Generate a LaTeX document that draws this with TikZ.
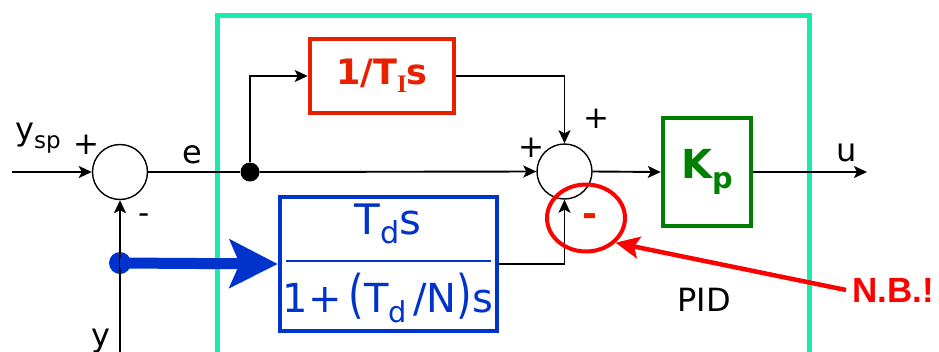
\documentclass[tikz,border=0pt]{standalone}
\usepackage{fontspec}
\setmainfont{DejaVu Sans}
\newfontfamily\nbfont{Liberation Sans}
\newfontfamily\serfont{Liberation Serif}
\usetikzlibrary{arrows.meta,shapes.geometric}
\definecolor{mint}{RGB}{25,235,175}
\definecolor{blkblue}{RGB}{0,51,204}
\definecolor{blkred}{RGB}{232,32,0}
\definecolor{blkgreen}{RGB}{0,128,0}
\definecolor{nbred}{RGB}{255,0,0}
\newcommand{\lowsub}[1]{{\fontsize{0.72em}{0.72em}\selectfont\raisebox{-0.32em}{#1}}}
\begin{document}
\begin{tikzpicture}[x=1pt,y=-1pt,
  wire/.style={line width=1.9pt},
  sig/.style={line width=1.9pt,-{Stealth[length=13pt,width=12pt,inset=3pt]}},
  sumc/.style={circle,draw,line width=1.4pt,minimum size=55pt,inner sep=0pt},
  blk/.style={draw,line width=4.5pt,inner sep=0pt},
  lbl/.style={inner sep=0pt,font=\fontsize{32}{36}\selectfont},
  pm/.style={inner sep=0pt,font=\fontsize{31}{34}\selectfont}]
\useasboundingbox (0,0) rectangle (939,351);
% frame
\draw[mint,line width=4.5pt] (217.5,355) -- (217.5,15.5) -- (809.5,15.5) -- (809.5,355);
% sums
\node[sumc] (s1) at (120,172) {};
\node[sumc] (s2) at (564.5,171.5) {};
% blocks
\node[blk,draw=blkred,minimum width=144pt,minimum height=74pt,text=blkred,font=\fontsize{35}{38}\selectfont\bfseries] (integ) at (382,76) {1/T{\serfont\lowsub{I}}s};
\node[blk,draw=blkgreen,minimum width=88pt,minimum height=108pt,text=blkgreen,font=\fontsize{40}{44}\selectfont\bfseries] (kp) at (707,172) {K\lowsub{p}};
\node[blk,draw=blkblue,minimum width=217pt,minimum height=134pt] (deriv) at (388.5,264) {};
\node[inner sep=0pt,text=blkblue,font=\fontsize{42}{46}\selectfont] (num) at (388,224) {T\lowsub{d}s};
\node[inner sep=0pt,text=blkblue,font=\fontsize{40}{46}\selectfont] (den) at (388,298) {1+\,\scalebox{1}[1.3]{(}T\lowsub{d}\,/N\scalebox{1}[1.3]{)}s};
\coordinate (fl) at (286,261);
\coordinate (fr) at (491,261);
\draw[blkblue,line width=1.2pt] (fl) -- (fr);
% junction and coords
\node[circle,fill,inner sep=0pt,minimum size=19pt] (j) at (250,172) {};
\coordinate (in) at (12,172);
\coordinate (out) at (867,172);
\coordinate (ybot) at (120,355);
\node[circle,fill=blkblue,inner sep=0pt,minimum size=22pt] (bd) at (120,263) {};
% connectors
\draw[sig] (in) -- (s1.west);
\draw[sig] (ybot) -- (s1.south);
\draw[wire] (s1.east) -- (j);
\draw[sig] (j) -- (s2.west);
\draw[sig] (j) |- (integ.west);
\draw[sig] (integ.east) -| (s2.north);
\draw[sig] (deriv.east) -| (s2.south);
\draw[sig] (s2.east) -- (kp.west);
\draw[sig] (kp.east) -- (out);
\draw[blkblue,line width=11pt,-{Stealth[length=48pt,width=48pt,inset=10pt]}] (bd.center) -- (deriv.west);
% labels
\node[lbl] (ysp) at (38,138) {y\lowsub{sp}};
\node[pm] (p1) at (86,145) {+};
\node[pm] (m1) at (144,219) {-};
\node[lbl] (ylab) at (101,341) {y};
\node[lbl] (elab) at (192,155) {e};
\node[pm] (p2) at (596,119) {+};
\node[pm] (p3) at (531,148) {+};
\node[lbl] (ulab) at (847,153) {u};
\node[lbl] (pid) at (704,300) {PID};
% N.B. annotation
\node[ellipse,draw=nbred,line width=4pt,minimum width=78pt,minimum height=67pt,inner sep=0pt] (nbc) at (586,218) {};
\node[inner sep=0pt,text=blkred,font=\fontsize{36}{38}\selectfont\bfseries] (mred) at (590,220) {-};
\node[inner sep=0pt,anchor=west,text=nbred,font=\nbfont\fontsize{35}{38}\selectfont\bfseries] (nb) at (852,290) {N.B.!};
\draw[nbred,line width=4.5pt,-{Stealth[length=24pt,width=22pt,inset=5pt]}] ([xshift=-6pt]nb.west) -- (nbc.320);
\end{tikzpicture}
\end{document}
